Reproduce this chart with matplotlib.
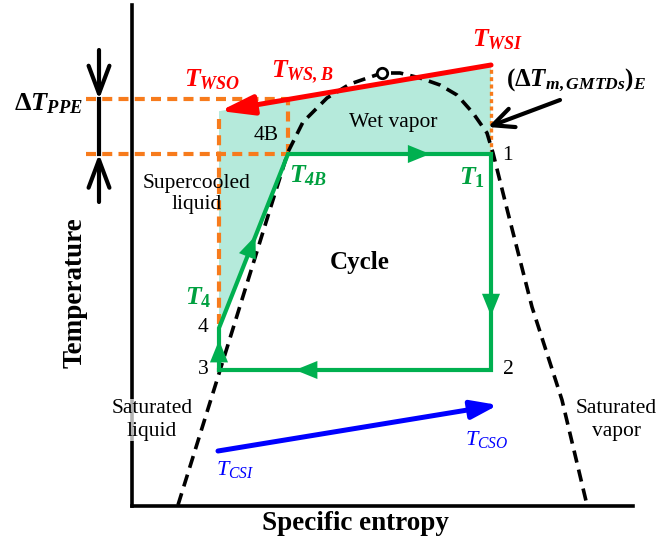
import matplotlib
matplotlib.use("Agg")
import matplotlib.pyplot as plt
import numpy as np

plt.rcParams['font.family'] = ['Liberation Serif', 'DejaVu Serif']
plt.rcParams['mathtext.fontset'] = 'custom'
plt.rcParams['mathtext.rm'] = 'Liberation Serif'
plt.rcParams['mathtext.it'] = 'Liberation Serif:italic'
plt.rcParams['mathtext.bf'] = 'Liberation Serif:bold'
plt.rcParams['mathtext.bfit'] = 'Liberation Serif:italic:bold'

# ---- schematic T-s data (arbitrary units: s = entropy, T = temperature) ----
# saturation dome (liquid branch -> critical point -> vapor branch)
dome_s = [46, 85, 140, 156, 171, 195, 218, 250, 268, 288, 308, 325, 341, 355, 361, 376, 400, 430, 455]
dome_T = [1, 126, 303, 354, 384, 408, 422, 433, 433, 428, 421, 411, 393, 373, 353, 293, 199, 106, 1]
critical_point = (250, 433)

# cycle state points 3 -> 4 -> 4B -> 1 -> 2 -> 3
cycle_labels = ['3', '4', '4B', '1', '2']
cycle_s = [87, 87, 156, 359, 359]
cycle_T = [136, 178, 352, 352, 136]

# heat source (hot water) line: inlet WSI -> outlet WSO
ws_s = [359, 88]
ws_T = [441, 395]

# cooling water line: inlet CSI -> outlet CSO
cs_s = [86, 366]
cs_T = [55, 101]

# positions of flow-direction arrows along each cycle leg (fraction of leg)
arrow_frac = [0.71, 0.53, 0.70, 0.75, 0.72]

GREEN = '#00b050'
GREEN_TXT = '#00a040'
ORANGE = '#f77b1c'
TEAL = '#b5eadb'

fig = plt.figure(figsize=(6.57, 5.44), dpi=100)
ax = fig.add_axes([0, 0, 1, 1])
ax.set_xlim(-132, 525)
ax.set_ylim(-38, 506)
ax.set_xticks([])
ax.set_yticks([])
for side in ['top', 'right']:
    ax.spines[side].set_visible(False)
ax.spines['left'].set_position(('data', 0))
ax.spines['bottom'].set_position(('data', 0))
ax.spines['left'].set_bounds(0, 501)
ax.spines['bottom'].set_bounds(0, 501)
for side in ['left', 'bottom']:
    ax.spines[side].set_linewidth(2.6)
    ax.spines[side].set_zorder(2)

# T interpolated along the heat-source line
def ws_at(s):
    return ws_T[1] + (ws_T[0] - ws_T[1]) * (s - ws_s[1]) / (ws_s[0] - ws_s[1])

T_wsb = ws_at(cycle_s[2])

# shaded heat-exchange region between heat source and working fluid
poly_s = [cycle_s[0], ws_s[1], ws_s[0], cycle_s[3], cycle_s[2], cycle_s[1]]
poly_T = [ws_at(cycle_s[0]), ws_T[1], ws_T[0], cycle_T[3], cycle_T[2], cycle_T[1]]
ax.fill(poly_s, poly_T, color=TEAL, lw=0, zorder=1)

# saturation dome
ax.plot(dome_s, dome_T, color='black', lw=2.6, ls=(0, (3.4, 2.0)), zorder=3)
ax.plot(*critical_point, marker='o', ms=7.5, mfc='white', mec='black', mew=2, zorder=6)

# pinch-point guide lines
dash = (0, (2.4, 1.5))
ax.plot([-46, cycle_s[2]], [T_wsb, T_wsb], color=ORANGE, lw=3, ls=dash, zorder=2)
ax.plot([-46, cycle_s[2]], [cycle_T[2], cycle_T[2]], color=ORANGE, lw=3, ls=dash, zorder=2)
ax.plot([cycle_s[2], cycle_s[2]], [cycle_T[2], T_wsb], color=ORANGE, lw=3, ls=dash, zorder=2)
ax.plot([cycle_s[0], cycle_s[0]], [cycle_T[1] + 4, ws_at(cycle_s[0]) - 8], color=ORANGE, lw=3, ls=dash, zorder=2)
ax.plot([ws_s[0], ws_s[0]], [cycle_T[3], ws_T[0]], color=ORANGE, lw=2.4, ls=(0, (1.2, 1.0)), zorder=2)

# cycle
cyc_s = cycle_s + [cycle_s[0]]
cyc_T = cycle_T + [cycle_T[0]]
ax.plot(cyc_s, cyc_T, color=GREEN, lw=3, solid_joinstyle='miter', zorder=4)
for i, f in enumerate(arrow_frac):
    s0, T0 = cyc_s[i], cyc_T[i]
    s1, T1 = cyc_s[i + 1], cyc_T[i + 1]
    tip = (s0 + f * (s1 - s0), T0 + f * (T1 - T0))
    tail = (s0 + (f - 0.05) * (s1 - s0), T0 + (f - 0.05) * (T1 - T0))
    ax.annotate('', xy=tip, xytext=tail,
                arrowprops=dict(arrowstyle='-|>,head_length=16,head_width=6.5',
                                mutation_scale=1, color=GREEN, lw=0,
                                shrinkA=0, shrinkB=0), zorder=5)

# heat source line
ax.annotate('', xy=(ws_s[1], ws_T[1]), xytext=(ws_s[0], ws_T[0]),
            arrowprops=dict(arrowstyle='-|>,head_length=20,head_width=6',
                            mutation_scale=1, color='red', lw=3.6,
                            shrinkA=0, shrinkB=0), zorder=5)

# cooling water line
ax.annotate('', xy=(cs_s[1], cs_T[1]), xytext=(cs_s[0], cs_T[0]),
            arrowprops=dict(arrowstyle='-|>,head_length=16,head_width=5.5',
                            mutation_scale=1, color='blue', lw=3.6,
                            shrinkA=0, shrinkB=0), zorder=5)

# pinch-point temperature difference marker
xp = -33
ax.plot([xp, xp], [T_wsb, cycle_T[2]], color='black', lw=3, zorder=5)
ax.annotate('', xy=(xp, T_wsb), xytext=(xp, 456),
            arrowprops=dict(arrowstyle='->,head_length=20,head_width=7.5',
                            mutation_scale=1, color='black', lw=3,
                            shrinkA=0, shrinkB=0), zorder=5)
ax.annotate('', xy=(xp, cycle_T[2]), xytext=(xp, 304),
            arrowprops=dict(arrowstyle='->,head_length=20,head_width=7.5',
                            mutation_scale=1, color='black', lw=3,
                            shrinkA=0, shrinkB=0), zorder=5)

# GMTD pointer
ax.annotate('', xy=(356, 379), xytext=(428, 406),
            arrowprops=dict(arrowstyle='->,head_length=15,head_width=7',
                            mutation_scale=1, color='black', lw=3,
                            shrinkA=0, shrinkB=0), zorder=5)

# ---- labels ----
def txt(s, T, text, **kw):
    kw.setdefault('ha', 'center')
    kw.setdefault('va', 'center')
    kw.setdefault('zorder', 7)
    ax.text(s, T, text, **kw)

txt(-84, 402, r'$\mathbf{\Delta}\mathbfit{T}_{\mathbfit{PPE}}$', fontsize=19)
txt(80, 426, r'$\mathbfit{T}_{\mathbfit{WSO}}$', fontsize=18.5, color='red')
txt(170, 434, r'$\mathbfit{T}_{\mathbfit{WS,B}}$', fontsize=18.5, color='red')
txt(366, 466, r'$\mathbfit{T}_{\mathbfit{WSI}}$', fontsize=18.5, color='red')
txt(444, 426, r'$\mathbf{(\Delta}\mathbfit{T}_{\mathbfit{m,GMTDs}}\mathbf{)}_{\mathbfit{E}}$', fontsize=18)

txt(134, 371, '4B', fontsize=15.5)
txt(261, 383, 'Wet vapor', fontsize=15.5)
txt(375, 351, '1', fontsize=15.5)
txt(71, 178, '4', fontsize=15.5)
txt(71, 136, '3', fontsize=15.5)
txt(376, 136, '2', fontsize=15.5)

txt(176, 330, r'$\mathbfit{T}_{\mathbfit{4B}}$', fontsize=18.5, color=GREEN_TXT)
txt(340, 328, r'$\mathbfit{T}_{\mathbf{1}}$', fontsize=18.5, color=GREEN_TXT)
txt(66, 208, r'$\mathbfit{T}_{\mathbf{4}}$', fontsize=18.5, color=GREEN_TXT)

txt(65, 312, 'Supercooled\nliquid', fontsize=15.5, linespacing=1.15)
txt(228, 243, 'Cycle', fontsize=18, fontweight='bold')
txt(20, 86, 'Saturated\nliquid', fontsize=15.5, linespacing=1.25,
    bbox=dict(facecolor='white', alpha=0.7, edgecolor='none', pad=0))
txt(484, 86, 'Saturated\nvapor', fontsize=15.5, linespacing=1.25)

txt(103, 36, r'$T_{CSI}$', fontsize=16, color='blue')
txt(355, 67, r'$T_{CSO}$', fontsize=16, color='blue')

txt(-57, 213, 'Temperature', fontsize=19.5, fontweight='bold', rotation=90)
txt(223, -18, 'Specific entropy', fontsize=19.5, fontweight='bold')

fig.savefig('out.png', dpi=100)
